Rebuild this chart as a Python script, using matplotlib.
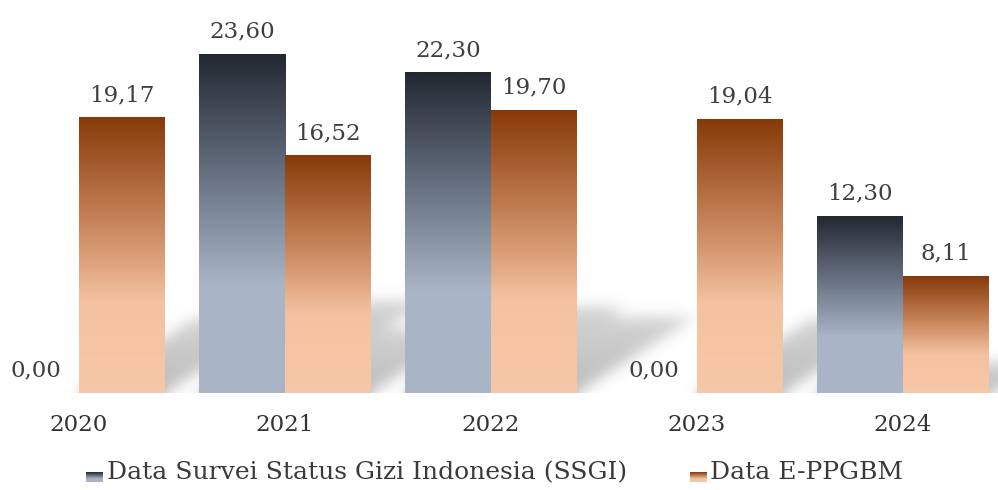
import numpy as np
import matplotlib
matplotlib.use("Agg")
import matplotlib.pyplot as plt
from matplotlib.colors import LinearSegmentedColormap

years = ["2020", "2021", "2022", "2023", "2024"]
ssgi = [0.00, 23.60, 22.30, 0.00, 12.30]
eppgbm = [19.17, 16.52, 19.70, 19.04, 8.11]
series_names = ["Data Survei Status Gizi Indonesia (SSGI)", "Data E-PPGBM"]

W, H = 998, 490
base_px = 393        # pixel row of the baseline
px_per_unit = 14.36
cat_px = 206
first_px = 79
bar_w = 86 / cat_px

ssgi_cmap = LinearSegmentedColormap.from_list(
    "ssgi", [(0, "#a9b5c6"), (0.32, "#a9b5c6"), (0.6, "#6f7a8b"), (1, "#232832")])
epp_cmap = LinearSegmentedColormap.from_list(
    "epp", [(0, "#f6c7a8"), (0.33, "#f4c2a0"), (0.62, "#c7845a"), (1, "#873a08")])

fig = plt.figure(figsize=(W / 100, H / 100), dpi=100)
ax = fig.add_axes([0, (H - base_px) / H, 1, base_px / H])
xlim = (-first_px / cat_px, (W - first_px) / cat_px)
ylim = (0, base_px / px_per_unit)

x = np.arange(len(years))
bars = []
for vals, off, cmap in [(ssgi, -bar_w / 2, ssgi_cmap), (eppgbm, bar_w / 2, epp_cmap)]:
    rects = ax.bar(x + off, vals, width=bar_w, color="none", zorder=3)
    grad = np.linspace(0, 1, 256).reshape(-1, 1)
    for r, v in zip(rects, vals):
        l, w = r.get_x(), r.get_width()
        bars.append((l, l + w, v))
        if v > 0:
            ax.imshow(grad, extent=[l, l + w, 0, v], origin="lower", cmap=cmap,
                      aspect="auto", zorder=3, interpolation="bilinear")
        ax.annotate(f"{v:.2f}".replace(".", ","), (r.get_x() + w / 2, v),
                    xytext=(0, 12), textcoords="offset points", ha="center",
                    va="baseline", fontsize=16.5, color="#3f3f3f", family="DejaVu Serif")

# soft cast shadows behind the bars
xd = xlim[0] + (np.arange(W) + 0.5) / cat_px
yd = (np.arange(base_px) + 0.5) / px_per_unit
mask = np.zeros((base_px, W))
for l, r, h in bars:
    if h <= 0:
        continue
    dy = 0.27 * h
    dx = 0.42 * h * px_per_unit / cat_px
    for i, yy in enumerate(yd):
        if yy > dy:
            break
        s = dx * yy / dy
        sel = (xd >= l + s) & (xd <= r + s)
        mask[i, sel] = np.maximum(mask[i, sel], 1.0 - 0.35 * yy / dy)
k = np.exp(-0.5 * (np.arange(-24, 25) / 7.0) ** 2)
k /= k.sum()
padded = np.pad(mask, 24, mode="edge")
padded = np.apply_along_axis(lambda c: np.convolve(c, k, mode="same"), 0, padded)
padded = np.apply_along_axis(lambda c: np.convolve(c, k, mode="same"), 1, padded)
mask = padded[24:-24, 24:-24]
rgba = np.zeros((base_px, W, 4))
rgba[..., :3] = 0.45
rgba[..., 3] = 0.48 * mask
ax.imshow(rgba, extent=[xlim[0], xlim[1], ylim[0], ylim[1]], origin="lower",
          aspect="auto", zorder=1)

ax.set_xlim(*xlim)
ax.set_ylim(*ylim)
ax.set_xticks(x, years)
ax.set_yticks([])
ax.tick_params(axis="x", length=0, pad=15, labelsize=16.5, labelcolor="#333333")
for lab in ax.get_xticklabels():
    lab.set_family("DejaVu Serif")
for sp in ax.spines.values():
    sp.set_visible(False)

# legend
leg_grad = np.linspace(1, 0, 64).reshape(-1, 1)
for (mx, tx), name, cmap in zip([(86, 107), (690, 710)], series_names,
                                [ssgi_cmap, epp_cmap]):
    max_ = fig.add_axes([mx / W, 1 - 482 / H, 17 / W, 10 / H])
    max_.imshow(leg_grad, cmap=cmap, aspect="auto", vmin=0, vmax=1)
    max_.axis("off")
    fig.text(tx / W, 1 - 479 / H, name, fontsize=18, va="baseline", ha="left",
             color="#3a3a3a", family="DejaVu Serif")

fig.savefig("out.png", dpi=100)
